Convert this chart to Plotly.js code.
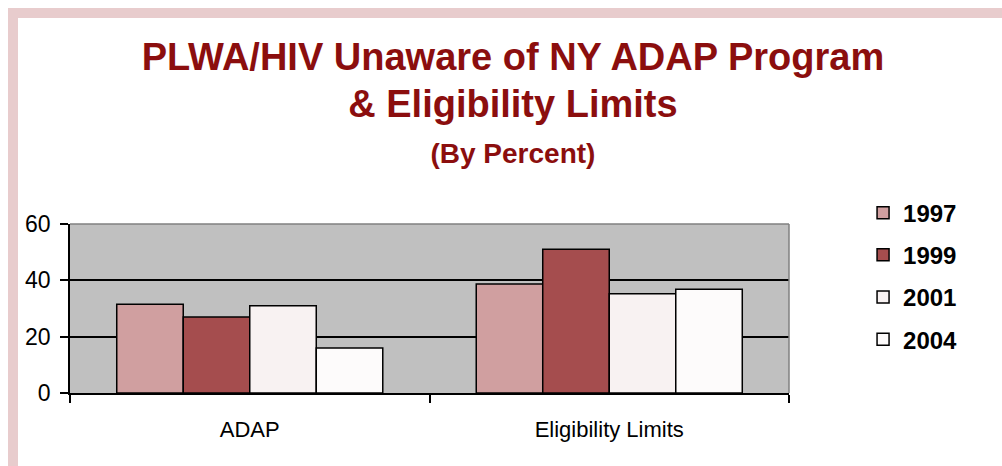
<!DOCTYPE html>
<html>
<head>
<meta charset="utf-8">
<script src="https://cdn.plot.ly/plotly-3.0.1.min.js"></script>
<style>
  body { margin: 0; background: #fff; }
  #frame {
    position: absolute; left: 8px; top: 8px;
    width: 994px; height: 457px;
    border-top: 10px solid #E8CCCD;
    border-left: 10px solid #E8CCCD;
    border-bottom: 1px solid #EEDCDC;
  }
  #chart { width: 984px; height: 446px; }
</style>
</head>
<body>
<div id="frame"><div id="chart"></div></div>
<script>
// categories and series
const categories = ["ADAP", "Eligibility Limits"];
const years = ["1997", "1999", "2001", "2004"];
const v1997 = [31.5, 38.7];
const v1999 = [27, 51];
const v2001 = [31, 35.2];
const v2004 = [16, 36.8];
const seriesValues = [v1997, v1999, v2001, v2004];
const colors = ["#D09FA0", "#A54D4E", "#F8F2F2", "#FDFBFB"];
const yTicks = [0, 20, 40, 60];

const traces = years.map((yr, i) => ({
  type: "bar",
  name: yr,
  x: categories,
  y: seriesValues[i],
  legendgroup: yr,
  marker: { color: colors[i], line: { color: "#000", width: 1.5 } },
  hoverinfo: "x+y+name"
}));

Plotly.newPlot("chart", traces, {
  width: 984,
  height: 446,
  title: {
    text: "<span style='font-size:38px'>PLWA/HIV Unaware of NY ADAP Program</span><br>" +
          "<span style='font-size:38px'>&amp; Eligibility Limits</span><br>" +
          "<span style='font-size:28px'>(By Percent)</span>",
    font: { family: "Liberation Sans, Arial", size: 36, color: "#8B0E0E", weight: "bold" },
    xref: "container", x: 0.503,
    yref: "container", y: 0.884, yanchor: "top"
  },
  font: { family: "Liberation Sans, Arial", color: "#000", size: 22 },
  paper_bgcolor: "#fff",
  plot_bgcolor: "#C0C0C0",
  margin: { l: 52, r: 213, t: 206, b: 71 },
  barmode: "group",
  bargap: 0.26,
  bargroupgap: 0,
  xaxis: {
    type: "category",
    showline: true, linecolor: "#000", linewidth: 1.5,
    ticks: "outside", tickson: "boundaries", ticklen: 8, tickcolor: "#000", tickwidth: 1.5,
    ticklabelstandoff: 16,
    showgrid: false,
    tickfont: { size: 22 }
  },
  yaxis: {
    range: [0, 60],
    tickvals: yTicks,
    showline: true, linecolor: "#000", linewidth: 1.5,
    ticks: "outside", ticklen: 8, tickcolor: "#000", tickwidth: 1.5,
    ticklabelstandoff: 5,
    showgrid: true, gridcolor: "#000", gridwidth: 1.5,
    zeroline: false,
    tickfont: { size: 23 }
  },
  shapes: [
    { type: "line", xref: "paper", yref: "paper", x0: 0, x1: 1, y0: 1, y1: 1, line: { color: "#808080", width: 1.5 }, layer: "above" },
    { type: "line", xref: "paper", yref: "paper", x0: 1, x1: 1, y0: 0, y1: 1, line: { color: "#808080", width: 1.5 }, layer: "above" }
  ],
  legend: {
    x: 1.103, xanchor: "left",
    y: 1.198, yanchor: "top",
    traceorder: "grouped",
    tracegroupgap: 8,
    font: { size: 24, weight: "bold", color: "#000" },
    bgcolor: "rgba(0,0,0,0)"
  },
  showlegend: true
}, { displayModeBar: false });
</script>
</body>
</html>
